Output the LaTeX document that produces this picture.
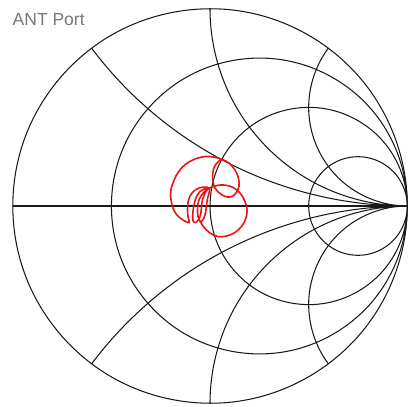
\documentclass[border=0pt]{standalone}
\usepackage{fontspec}
\setmainfont{Liberation Sans}
\usepackage{pgfplots}
\pgfplotsset{compat=1.18}
\usepgfplotslibrary{smithchart}
\definecolor{titlegray}{RGB}{120,120,120}
\definecolor{gridc}{RGB}{25,25,25}
\definecolor{curvered}{RGB}{235,20,20}
\begin{document}
\begin{tikzpicture}
\path[use as bounding box] (0,0) rectangle (417bp,407bp);
\node[anchor=base west, inner sep=0pt, text=titlegray, font=\fontsize{17.5bp}{20bp}\selectfont] at (12.5bp,381.5bp) {ANT Port};
\begin{smithchart}[
  at={(210bp,201bp)}, anchor=center,
  width=394.6bp, height=394.6bp, scale only axis,
  xtick={0.33333,1,3},
  ytick={-2,-1,-0.5,0,0.5,1,2},
  minor xtick={}, minor ytick={},
  xgrid stop at y={}, ygrid stop at x={},
  xticklabels={}, yticklabels={},
  major tick length=0pt, minor tick length=0pt,
  grid=major,
  major grid style={gridc, line width=1.05pt},
  axis line style={gridc, line width=1.05pt},
]
\addplot[is smithchart cs, curvered, line width=1.6pt, smooth, tension=0.6] coordinates {
(0.056,0.236) (0.035,0.218) (0.020,0.193) (0.013,0.157) (0.015,0.122) (0.025,0.091)
(0.041,0.071) (0.061,0.056) (0.086,0.046) (0.111,0.048) (0.134,0.068) (0.147,0.101)
(0.144,0.142) (0.127,0.182) (0.096,0.218) (0.061,0.236) (0.020,0.248) (-0.025,0.251)
(-0.076,0.238) (-0.122,0.213) (-0.157,0.177) (-0.182,0.132) (-0.198,0.081) (-0.198,0.035)
(-0.188,-0.010) (-0.167,-0.046) (-0.137,-0.071) (-0.106,-0.084)
(-0.111,-0.056) (-0.114,-0.020) (-0.111,0.020) (-0.101,0.051) (-0.081,0.076) (-0.056,0.091)
(-0.025,0.096) (-0.008,0.091)
(-0.022,0.071) (-0.037,0.035) (-0.043,0.000) (-0.046,-0.035) (-0.056,-0.066) (-0.074,-0.084)
(-0.086,-0.074)
(-0.087,-0.035) (-0.081,0.005) (-0.071,0.041) (-0.053,0.071) (-0.028,0.086) (-0.002,0.091)
(-0.005,0.066) (-0.013,0.035) (-0.018,0.000) (-0.023,-0.035) (-0.033,-0.066) (-0.045,-0.084)
(-0.030,-0.108) (0.000,-0.137) (0.041,-0.155) (0.086,-0.152) (0.127,-0.134) (0.162,-0.101)
(0.182,-0.061) (0.188,-0.020) (0.177,0.025) (0.152,0.066) (0.117,0.094) (0.076,0.106)
(0.035,0.104) (-0.005,0.089) (-0.035,0.066) (-0.056,0.030) (-0.063,-0.010) (-0.061,-0.051)
(-0.046,-0.086)
};
\end{smithchart}
\end{tikzpicture}
\end{document}
